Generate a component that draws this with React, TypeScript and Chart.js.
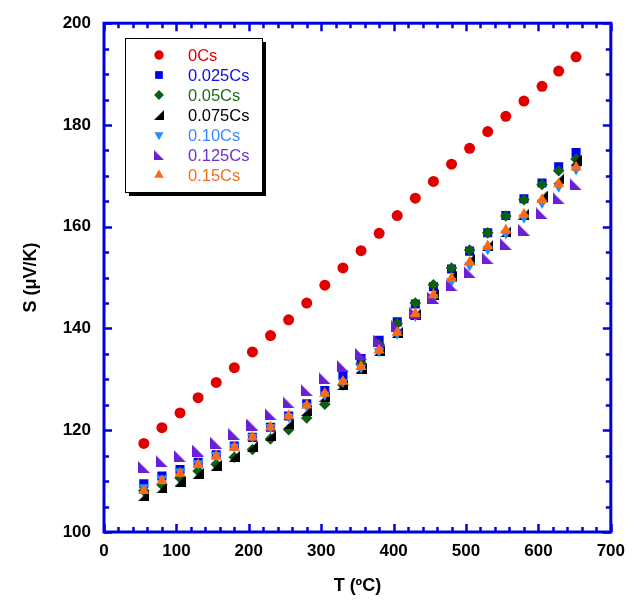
import { useEffect, useRef } from 'react';
import { Chart, registerables } from 'chart.js';

Chart.register(...registerables);

// ---------- data ----------
const temperatures = [55, 80, 105, 130, 155, 180, 205, 230, 255, 280, 305, 330, 355, 380, 405, 430, 455, 480, 505, 530, 555, 580, 605, 628, 652];

const s0Cs = [117.4, 120.5, 123.4, 126.4, 129.4, 132.3, 135.4, 138.6, 141.7, 145.0, 148.5, 151.9, 155.3, 158.7, 162.2, 165.6, 168.9, 172.3, 175.4, 178.7, 181.7, 184.7, 187.6, 190.6, 193.4];
const s0025Cs = [109.5, 111.0, 112.3, 113.7, 115.2, 116.9, 118.6, 120.6, 122.8, 125.2, 127.8, 130.9, 134.1, 137.7, 141.3, 144.8, 148.2, 151.7, 155.2, 158.8, 162.2, 165.5, 168.6, 171.8, 174.6];
const s005Cs = [108.1, 109.3, 110.6, 112.0, 113.3, 114.7, 116.2, 118.3, 120.1, 122.4, 125.1, 128.9, 133.0, 136.9, 141.0, 145.0, 148.6, 151.9, 155.4, 158.8, 162.1, 165.3, 168.3, 171.0, 173.3];
const s0075Cs = [107.2, 108.7, 110.0, 111.5, 113.1, 114.9, 116.8, 118.9, 121.3, 123.9, 126.7, 129.0, 132.2, 135.6, 139.2, 142.8, 146.7, 150.3, 153.6, 156.3, 159.0, 162.5, 166.0, 169.4, 173.1];
const s010Cs = [108.8, 110.5, 111.9, 113.5, 115.1, 116.8, 118.7, 120.6, 122.7, 124.8, 127.0, 129.5, 132.3, 135.5, 139.0, 142.5, 146.1, 149.3, 152.4, 155.6, 158.7, 161.8, 164.7, 167.9, 171.3];
const s0125Cs = [112.8, 113.9, 114.9, 116.0, 117.5, 119.2, 121.1, 123.2, 125.5, 127.9, 130.2, 132.6, 135.0, 137.6, 140.4, 143.0, 146.0, 148.5, 151.1, 153.8, 156.6, 159.4, 162.6, 165.6, 168.3];
const s015Cs = [108.1, 110.0, 111.5, 113.2, 114.9, 116.6, 118.6, 120.6, 122.8, 124.9, 127.2, 129.6, 132.5, 135.7, 139.2, 142.9, 146.6, 149.8, 153.0, 156.2, 159.3, 162.4, 165.3, 168.4, 171.7];

const seriesLabels = ['0Cs', '0.025Cs', '0.05Cs', '0.075Cs', '0.10Cs', '0.125Cs', '0.15Cs'];
const seriesValues = [s0Cs, s0025Cs, s005Cs, s0075Cs, s010Cs, s0125Cs, s015Cs];
const markerColors = ['#e00000', '#0000f0', '#0b5e12', '#000000', '#2a8cff', '#6a1fd6', '#ff6a10'];
const textColors = ['#e00000', '#1010e0', '#1e6b1e', '#000000', '#3b8cff', '#7030d0', '#f07020'];

const xTickValues = [0, 100, 200, 300, 400, 500, 600, 700];
const yTickValues = [100, 120, 140, 160, 180, 200];
const xMinorStep = 20;
const yMinorStep = 5;

const FRAME_BLUE = '#0000e0';

type Marker = { kind: string; r: number; rot?: number; img?: HTMLCanvasElement };

function makeRightTriangle(color: string, corner: 'br' | 'bl', size: number) {
  const c = document.createElement('canvas');
  c.width = size;
  c.height = size;
  const g = c.getContext('2d')!;
  g.fillStyle = color;
  g.beginPath();
  if (corner === 'br') {
    g.moveTo(0, size);
    g.lineTo(size, size);
    g.lineTo(size, 0);
  } else {
    g.moveTo(0, 0);
    g.lineTo(0, size);
    g.lineTo(size, size);
  }
  g.closePath();
  g.fill();
  return c;
}

function drawMarker(ctx: CanvasRenderingContext2D, m: Marker, x: number, y: number, color: string) {
  ctx.save();
  ctx.fillStyle = color;
  ctx.beginPath();
  if (m.kind === 'circle') {
    ctx.arc(x, y, m.r, 0, Math.PI * 2);
    ctx.fill();
  } else if (m.kind === 'rect') {
    const h = m.r * Math.SQRT1_2;
    ctx.fillRect(x - h, y - h, 2 * h, 2 * h);
  } else if (m.kind === 'rectRot') {
    ctx.moveTo(x - m.r, y);
    ctx.lineTo(x, y - m.r);
    ctx.lineTo(x + m.r, y);
    ctx.lineTo(x, y + m.r);
    ctx.closePath();
    ctx.fill();
  } else if (m.kind === 'triangle') {
    let rad = ((m.rot || 0) * Math.PI) / 180;
    ctx.moveTo(x + Math.sin(rad) * m.r, y - Math.cos(rad) * m.r);
    rad += (2 * Math.PI) / 3;
    ctx.lineTo(x + Math.sin(rad) * m.r, y - Math.cos(rad) * m.r);
    rad += (2 * Math.PI) / 3;
    ctx.lineTo(x + Math.sin(rad) * m.r, y - Math.cos(rad) * m.r);
    ctx.closePath();
    ctx.fill();
  } else if (m.kind === 'image' && m.img) {
    const s = m.r * 1.5;
    ctx.drawImage(m.img, x - s / 2, y - s / 2, s, s);
  }
  ctx.restore();
}

export default function App() {
  const canvasRef = useRef<HTMLCanvasElement | null>(null);

  useEffect(() => {
    document.body.style.margin = '0';
    document.body.style.overflow = 'hidden';
    const canvas = canvasRef.current;
    if (!canvas) return;

    const blackTri = makeRightTriangle(markerColors[3], 'br', 11);
    const purpleTri = makeRightTriangle(markerColors[5], 'bl', 12);

    const markers: Marker[] = [
      { kind: 'circle', r: 5.5 },
      { kind: 'rect', r: 6.4 },
      { kind: 'rectRot', r: 5.8 },
      { kind: 'image', r: 7.3, img: blackTri },
      { kind: 'triangle', r: 6.2, rot: 180 },
      { kind: 'image', r: 8, img: purpleTri },
      { kind: 'triangle', r: 6.5, rot: 0 },
    ];

    const datasets = seriesLabels.map((label, i) => {
      const m = markers[i];
      return {
        label,
        data: temperatures.map((t, k) => ({ x: t, y: seriesValues[i][k] })),
        showLine: false,
        pointStyle: (m.kind === 'image' ? m.img : m.kind) as any,
        pointRadius: m.r,
        pointHoverRadius: m.r,
        pointRotation: m.rot || 0,
        backgroundColor: markerColors[i],
        borderColor: markerColors[i],
        borderWidth: 0,
        order: seriesLabels.length - i,
      };
    });

    const framePlugin = {
      id: 'frame',
      afterDatasetsDraw(chart: any) {
        const { ctx, chartArea } = chart;
        const { left, right, top, bottom } = chartArea;
        const xs = chart.scales.x;
        const ys = chart.scales.y;
        ctx.save();
        ctx.strokeStyle = FRAME_BLUE;
        ctx.lineCap = 'butt';
        ctx.lineWidth = 2.5;
        const xMin = xTickValues[0];
        const xMax = xTickValues[xTickValues.length - 1];
        for (let v = xMin; v <= xMax; v += xMinorStep) {
          const px = Math.round(xs.getPixelForValue(v)) + 0.5;
          const len = v % 100 === 0 ? 8 : 5;
          ctx.beginPath();
          ctx.moveTo(px, bottom);
          ctx.lineTo(px, bottom - len);
          ctx.moveTo(px, top);
          ctx.lineTo(px, top + len);
          ctx.stroke();
        }
        const yMin = yTickValues[0];
        const yMax = yTickValues[yTickValues.length - 1];
        for (let v = yMin; v <= yMax; v += yMinorStep) {
          const py = Math.round(ys.getPixelForValue(v)) + 0.5;
          const len = v % 20 === 0 ? 8 : 5;
          ctx.beginPath();
          ctx.moveTo(left, py);
          ctx.lineTo(left + len, py);
          ctx.moveTo(right, py);
          ctx.lineTo(right - len, py);
          ctx.stroke();
        }
        ctx.lineWidth = 3;
        ctx.strokeRect(left, top, right - left, bottom - top);
        ctx.restore();
      },
    };

    const legendPlugin = {
      id: 'boxLegend',
      afterDraw(chart: any) {
        const ctx = chart.ctx as CanvasRenderingContext2D;
        const L = 125, T = 38, W = 137, H = 154;
        ctx.save();
        ctx.fillStyle = '#000';
        ctx.fillRect(L + 4, T + 4, W, H);
        ctx.fillStyle = '#fff';
        ctx.fillRect(L, T, W, H);
        ctx.strokeStyle = '#000';
        ctx.lineWidth = 1;
        ctx.strokeRect(L + 0.5, T + 0.5, W, H);
        ctx.font = '16.5px "Liberation Sans", Arial, sans-serif';
        ctx.textBaseline = 'middle';
        ctx.textAlign = 'left';
        seriesLabels.forEach((label, i) => {
          const y = T + 17 + i * 20;
          const m = markers[i];
          const lm: Marker = { ...m, r: m.r * 0.85 };
          drawMarker(ctx, lm, L + 34, y, markerColors[i]);
          ctx.fillStyle = textColors[i];
          ctx.fillText(label, L + 63, y + 1);
        });
        ctx.restore();
      },
    };

    const tickFont = { family: '"Liberation Sans", Arial, sans-serif', size: 17, weight: 'bold' as const };
    const titleFont = { family: '"Liberation Sans", Arial, sans-serif', size: 18, weight: 'bold' as const };

    const chart = new Chart(canvas, {
      type: 'scatter',
      data: { datasets: datasets as any },
      options: {
        animation: false,
        responsive: false,
        maintainAspectRatio: false,
        layout: { padding: { top: 21, right: 20, left: 0, bottom: 0 } },
        plugins: { legend: { display: false }, tooltip: { enabled: false } },
        scales: {
          x: {
            type: 'linear',
            min: xTickValues[0],
            max: xTickValues[xTickValues.length - 1],
            afterBuildTicks: (s: any) => {
              s.ticks = xTickValues.map((v) => ({ value: v }));
            },
            afterFit: (s: any) => {
              s.height = 70;
            },
            ticks: { color: '#000', font: tickFont, padding: 9, maxRotation: 0 },
            grid: { display: false, drawTicks: false },
            border: { display: false },
            title: { display: true, text: 'T (ºC)', color: '#000', font: titleFont, padding: { top: 0, bottom: 5 } },
          },
          y: {
            type: 'linear',
            min: yTickValues[0],
            max: yTickValues[yTickValues.length - 1],
            afterBuildTicks: (s: any) => {
              s.ticks = yTickValues.map((v) => ({ value: v }));
            },
            afterFit: (s: any) => {
              s.width = 104;
            },
            ticks: { color: '#000', font: tickFont, padding: 13 },
            grid: { display: false, drawTicks: false },
            border: { display: false },
            title: { display: true, text: 'S (μV/K)', color: '#000', font: titleFont, padding: { top: 20, bottom: 0 } },
          },
        },
      },
      plugins: [framePlugin, legendPlugin],
    });

    return () => {
      chart.destroy();
    };
  }, []);

  return (
    <div style={{ width: 634, height: 602, background: '#fff' }}>
      <canvas ref={canvasRef} width={634} height={602} style={{ display: 'block' }} />
    </div>
  );
}
